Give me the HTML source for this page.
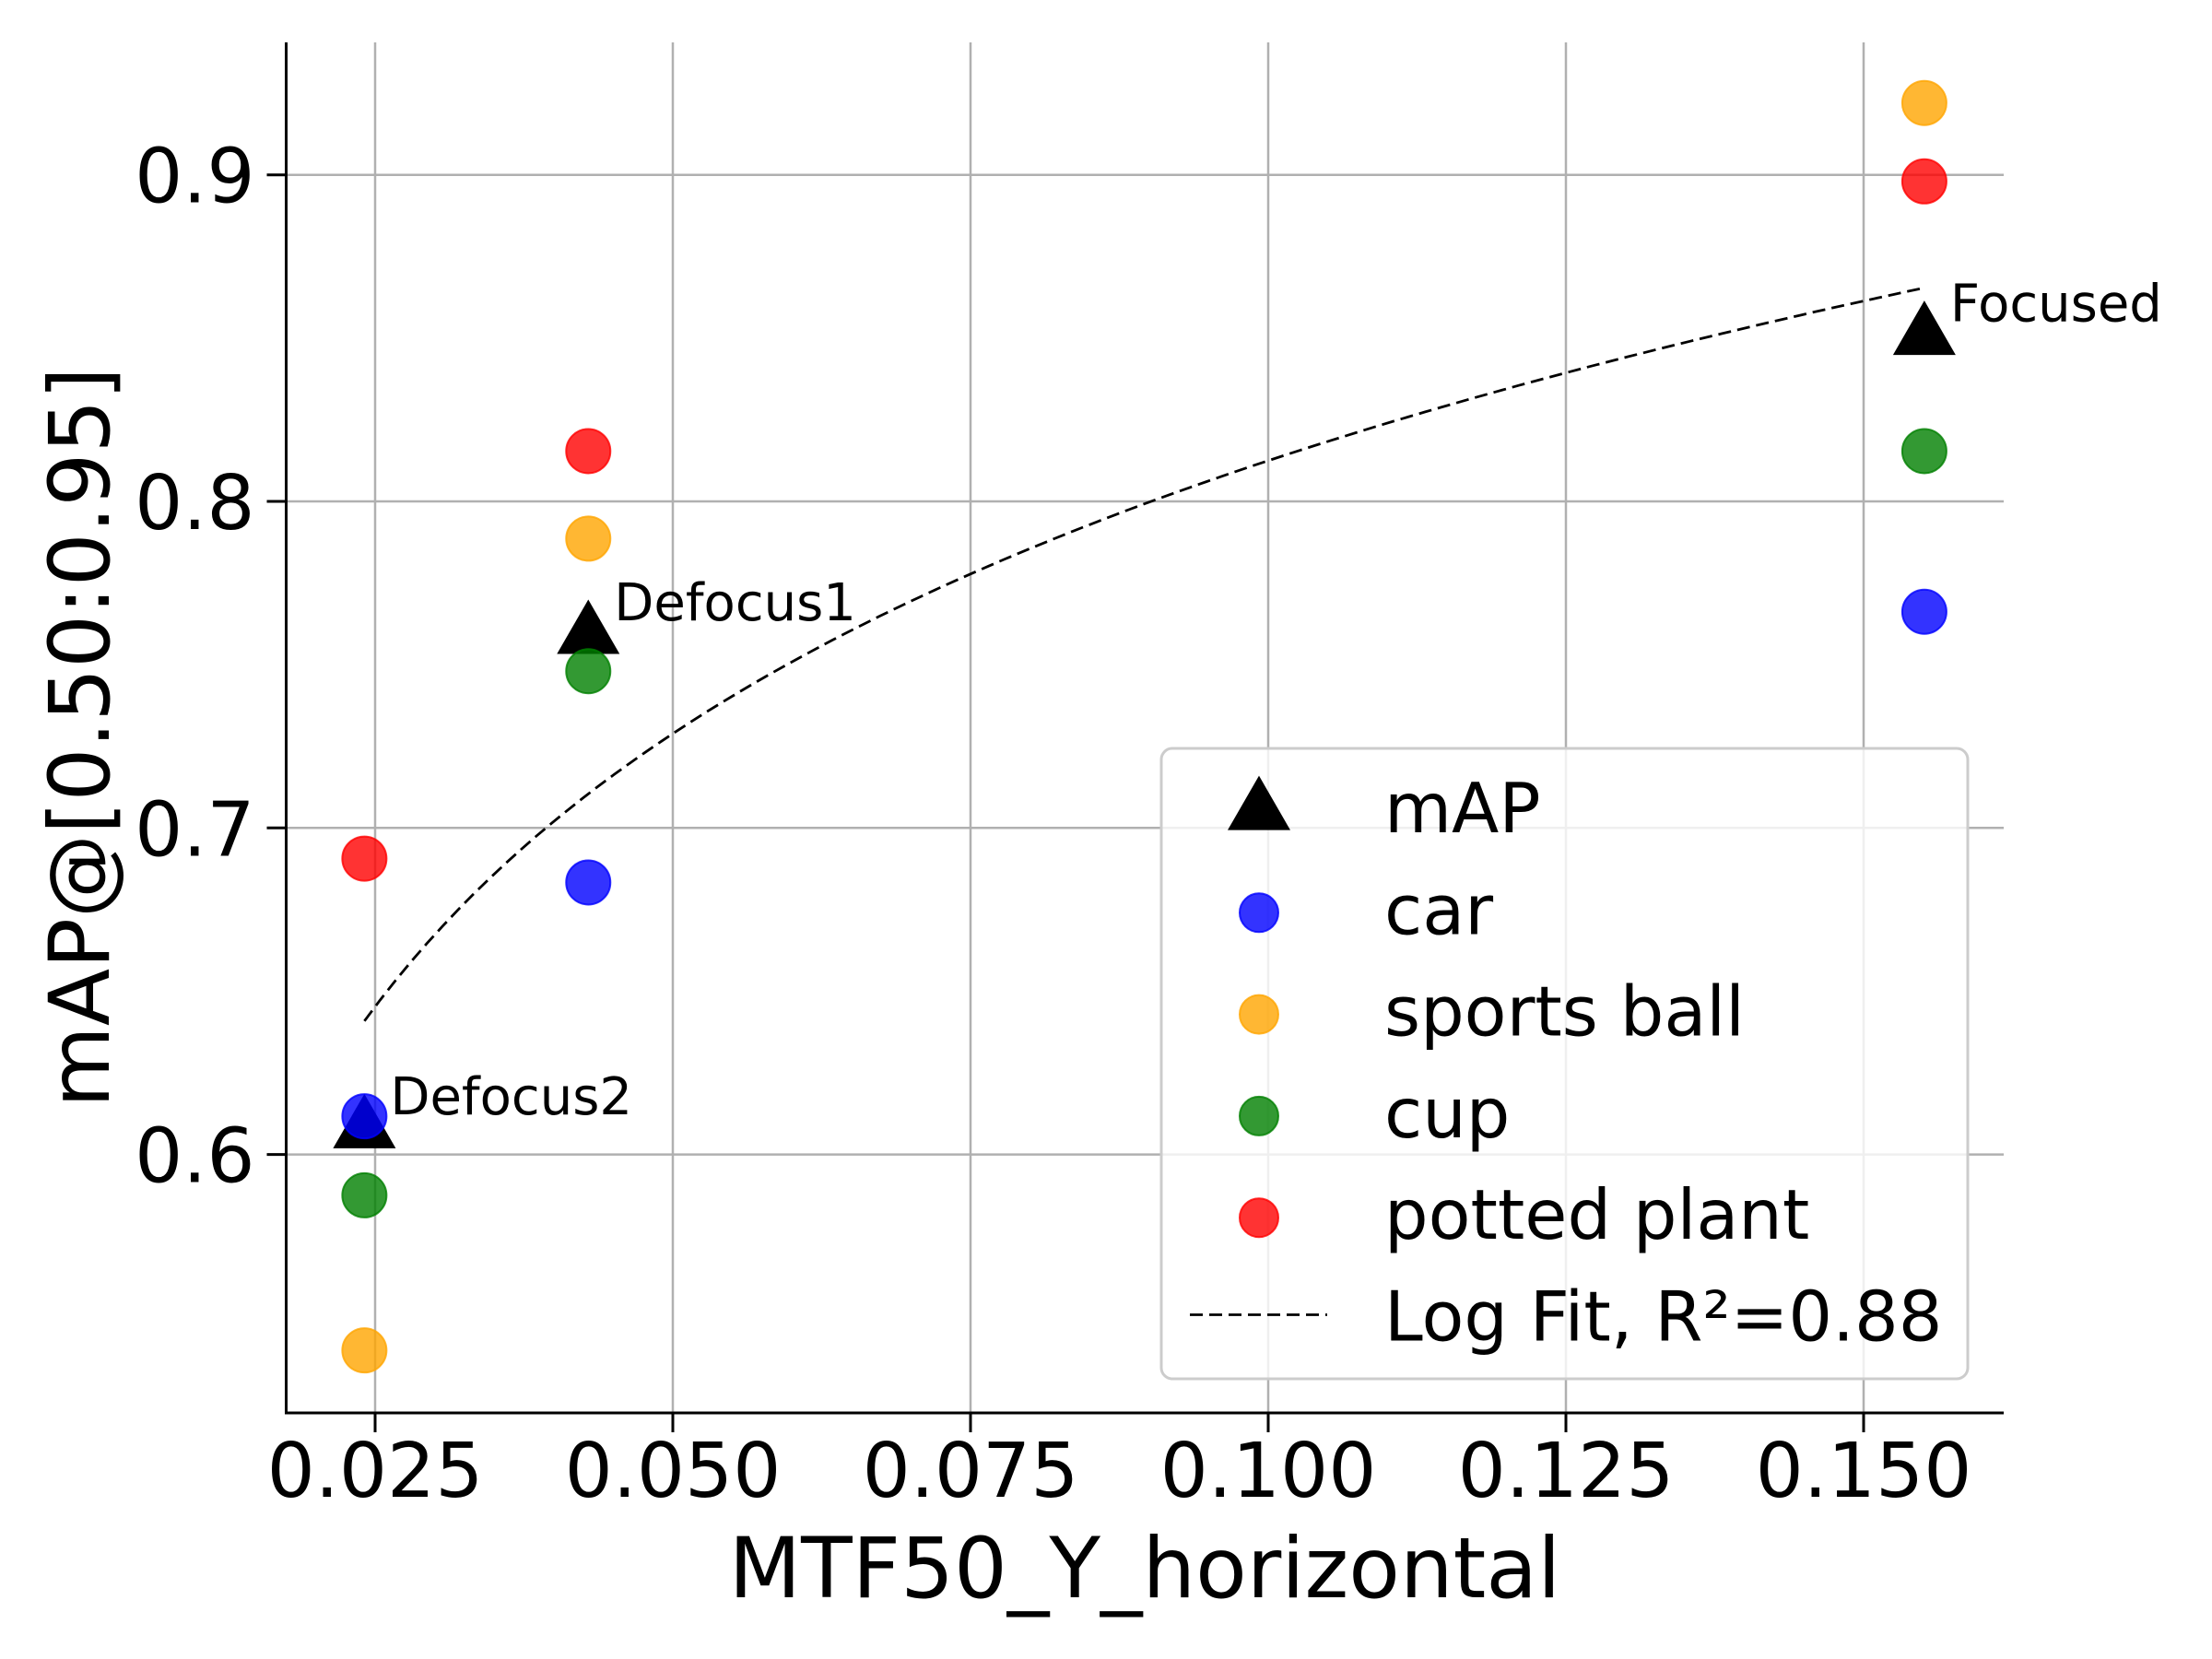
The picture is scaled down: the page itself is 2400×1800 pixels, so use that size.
<!DOCTYPE html>
<html><head><meta charset="utf-8"><style>
html,body{margin:0;padding:0;background:#fff;}
svg{display:block;font-family:"DejaVu Sans","Liberation Sans",sans-serif;}
</style></head><body>
<svg id="chart" width="2400" height="1800" viewBox="0 0 2400 1800" xmlns="http://www.w3.org/2000/svg"></svg>
<script>
const xTicks = [0.025, 0.050, 0.075, 0.100, 0.125, 0.150];
const xTickLabels = ["0.025", "0.050", "0.075", "0.100", "0.125", "0.150"];
const yTicks = [0.6, 0.7, 0.8, 0.9];
const yTickLabels = ["0.6", "0.7", "0.8", "0.9"];
const conditions = ["Defocus2", "Defocus1", "Focused"];
const mtf50 = [0.0241, 0.0429, 0.1551];
const carVals = [0.6117, 0.6833, 0.7662];
const ballVals = [0.540, 0.7886, 0.922];
const cupVals = [0.5875, 0.748, 0.8154];
const plantVals = [0.6906, 0.8154, 0.898];

const NS = "http://www.w3.org/2000/svg";
const svg = document.getElementById("chart");
const L = 310.5, R = 2174, T = 46, B = 1533;
function px(v){ return 407 + (v - 0.025) / 0.025 * 323.0; }
function py(v){ return 189.7 + (0.9 - v) / 0.1 * 354.3; }
function mk(tag, attrs, parent){
  const e = document.createElementNS(NS, tag);
  for (const k in attrs) e.setAttribute(k, attrs[k]);
  (parent || svg).appendChild(e);
  return e;
}
xTicks.forEach((t, i) => {
  const g = mk("line", {x1: px(t), x2: px(t), y1: T, y2: B, stroke: "#b0b0b0", "stroke-width": 2.5});
  
  
  const tk = mk("line", {x1: px(t), x2: px(t), y1: B, y2: B + 21, stroke: "#000", "stroke-width": 3});
  
  
  const lb = mk("text", {x: px(t), y: B + 91, "font-size": 82, "text-anchor": "middle", fill: "#000"});
  lb.textContent = xTickLabels[i];
  
  
});
yTicks.forEach((t, i) => {
  const g = mk("line", {x1: L, x2: R, y1: py(t), y2: py(t), stroke: "#b0b0b0", "stroke-width": 2.5});
  
  
  const tk = mk("line", {x1: L - 21, x2: L, y1: py(t), y2: py(t), stroke: "#000", "stroke-width": 3});
  
  
  const lb = mk("text", {x: L - 34, y: py(t) + 30, "font-size": 82, "text-anchor": "end", fill: "#000"});
  lb.textContent = yTickLabels[i];
  
  
});
const sl = mk("line", {x1: L, x2: L, y1: T, y2: B + 1.5, stroke: "#000", "stroke-width": 3});


const sb = mk("line", {x1: L - 1.5, x2: R, y1: B, y2: B, stroke: "#000", "stroke-width": 3});



const mapVals = mtf50.map((_, i) => (carVals[i] + ballVals[i] + cupVals[i] + plantVals[i]) / 4);
const lx = mtf50.map(Math.log);
const mx = lx.reduce((a, b) => a + b, 0) / lx.length;
const my = mapVals.reduce((a, b) => a + b, 0) / mapVals.length;
let sxx = 0, sxy = 0;
lx.forEach((v, i) => { sxx += (v - mx) ** 2; sxy += (v - mx) * (mapVals[i] - my); });
const fb = sxy / sxx, fa = my - fb * mx;
const x0 = Math.min(...mtf50), x1 = Math.max(...mtf50);
let d = "";
for (let k = 0; k <= 100; k++) {
  const xv = x0 + (x1 - x0) * k / 100;
  d += (k ? "L" : "M") + px(xv).toFixed(1) + "," + py(fa + fb * Math.log(xv)).toFixed(1);
}
const fit = mk("path", {d: d, fill: "none", stroke: "#000", "stroke-width": 2.8, "stroke-dasharray": "14,7"});



const series = [
  {vals: carVals, color: "#0000ff", name: "car-point"},
  {vals: ballVals, color: "#ffa500", name: "sports-ball-point"},
  {vals: cupVals, color: "#008000", name: "cup-point"},
  {vals: plantVals, color: "#ff0000", name: "potted-plant-point"}
];
function tri(cx, cy, parent){
  const h = 59, w = 68;
  return mk("polygon", {points: `${cx},${cy - h * 2 / 3} ${cx - w / 2},${cy + h / 3} ${cx + w / 2},${cy + h / 3}`, fill: "#000"}, parent);
}
mtf50.forEach((x, i) => {
  const t = tri(px(x), py(mapVals[i]));
  
  
});
series.forEach(s => {
  s.vals.forEach((v, i) => {
    const c = mk("circle", {cx: px(mtf50[i]), cy: py(v), r: 24, fill: s.color, "fill-opacity": 0.8, stroke: s.color, "stroke-opacity": 0.8, "stroke-width": 2});
    
    
  });
});
mtf50.forEach((x, i) => {
  const a = mk("text", {x: px(x) + 28, y: py(mapVals[i]) - 17, "font-size": 56, fill: "#000"});
  a.textContent = conditions[i];
  
  
});

const xt = mk("text", {x: 1242, y: 1733, "font-size": 91, "text-anchor": "middle", fill: "#000"});
xt.textContent = "MTF50_Y_horizontal";


const yt = mk("text", {x: 0, y: 0, "font-size": 91, "text-anchor": "middle", fill: "#000", transform: "translate(118,800) rotate(-90)"});
yt.textContent = "mAP@[0.50:0.95]";



const lg = mk("g", {});


const box = mk("rect", {x: 1260, y: 812, width: 875, height: 684, rx: 12, fill: "#fff", "fill-opacity": 0.8, stroke: "#cccccc", "stroke-width": 3}, lg);


const rows = [
  {label: "mAP", kind: "tri"},
  {label: "car", kind: "c", color: "#0000ff"},
  {label: "sports ball", kind: "c", color: "#ffa500"},
  {label: "cup", kind: "c", color: "#008000"},
  {label: "potted plant", kind: "c", color: "#ff0000"},
  {label: "Log Fit, R²=0.88", kind: "line"}
];
rows.forEach((r, i) => {
  const cy = 875 + i * 110.3;
  const g = mk("g", {}, lg);
  
  
  if (r.kind === "tri") tri(1366, cy + 6, g);
  else if (r.kind === "c") mk("circle", {cx: 1366, cy: cy + 5, r: 21, fill: r.color, "fill-opacity": 0.8, stroke: r.color, "stroke-opacity": 0.8, "stroke-width": 2}, g);
  else mk("line", {x1: 1291, x2: 1440, y1: cy, y2: cy, stroke: "#000", "stroke-width": 2.8, "stroke-dasharray": "14,7"}, g);
  const t = mk("text", {x: 1502, y: cy + 28, "font-size": 75, fill: "#000"}, g);
  t.textContent = r.label;
});
</script>
</body></html>
